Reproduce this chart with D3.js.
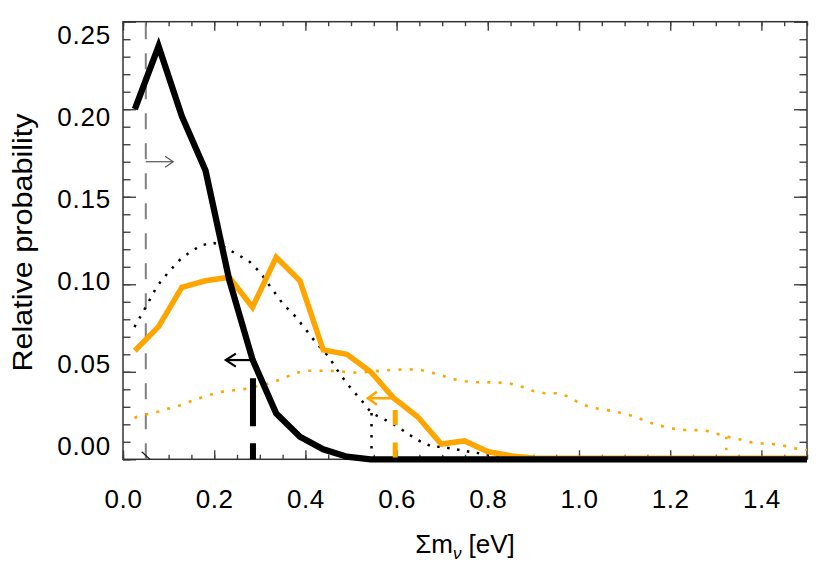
<!DOCTYPE html>
<html>
<head>
<meta charset="utf-8">
<script src="https://cdn.jsdelivr.net/npm/d3@7"></script>
<style>
  html, body { margin: 0; padding: 0; background: #fff; }
  svg { display: block; font-family: "Liberation Sans", Arial, Helvetica, sans-serif; }
</style>
</head>
<body>
<svg id="chart" width="822" height="575"></svg>
<script>
// ---------------- data ----------------
const binCenters = [0.026, 0.078, 0.129, 0.181, 0.233, 0.284, 0.336, 0.388, 0.439, 0.491,
                    0.543, 0.594, 0.646, 0.698, 0.749, 0.801, 0.853, 0.904, 0.956, 1.008,
                    1.059, 1.111, 1.163, 1.214, 1.266, 1.318, 1.369, 1.421, 1.473, 1.524];
const blackSolid = [0.200, 0.236, 0.196, 0.165, 0.1025, 0.057, 0.0262, 0.0129, 0.0057, 0.0015,
                    0, 0, 0, 0, 0, 0, 0, 0, 0, 0,
                    0, 0, 0, 0, 0, 0, 0, 0, 0, 0];
const orangeSolid = [0.062, 0.0758, 0.0983, 0.102, 0.104, 0.0869, 0.1154, 0.102, 0.0625, 0.060,
                     0.050, 0.0349, 0.0243, 0.0087, 0.0105, 0.0043, 0.0019, 0.0006, 0.0006, 0.0006,
                     0.0006, 0.0006, 0.0006, 0.0006, 0.0006, 0.0006, 0.0006, 0.0006, 0.0006, 0.0006];

const blackDottedX = [0.025, 0.05, 0.075, 0.1, 0.125, 0.15, 0.175, 0.2, 0.225, 0.25,
                      0.275, 0.3, 0.325, 0.35, 0.375, 0.4, 0.425, 0.45, 0.475, 0.5,
                      0.525, 0.545, 0.575, 0.6, 0.625, 0.65, 0.675, 0.7, 0.725, 0.75,
                      0.775, 0.8, 0.825, 0.85, 0.9, 0.95, 1.0];
const blackDottedY = [0.0755, 0.087, 0.099, 0.107, 0.114, 0.119, 0.1225, 0.1235, 0.121, 0.117,
                      0.1135, 0.107, 0.098, 0.089, 0.0825, 0.0745, 0.066, 0.059, 0.049, 0.0405,
                      0.033, 0.0265, 0.0225, 0.019, 0.0145, 0.0105, 0.0075, 0.007, 0.006, 0.0047,
                      0.0037, 0.0027, 0.002, 0.0015, 0.0008, 0.0003, 0];

const orangeDottedX = [0.025, 0.05, 0.075, 0.1, 0.125, 0.15, 0.175, 0.2, 0.225, 0.25,
                       0.275, 0.3, 0.325, 0.35, 0.375, 0.4, 0.425, 0.45, 0.475, 0.5,
                       0.525, 0.55, 0.575, 0.6, 0.625, 0.65, 0.675, 0.7, 0.725, 0.75,
                       0.775, 0.8, 0.825, 0.85, 0.875, 0.9, 0.925, 0.95, 0.975, 1.0,
                       1.025, 1.05, 1.075, 1.1, 1.125, 1.15, 1.175, 1.2, 1.225, 1.25,
                       1.275, 1.3, 1.325, 1.35, 1.375, 1.4, 1.425, 1.45, 1.475, 1.5];
const orangeDottedY = [0.0238, 0.0255, 0.027, 0.029, 0.0308, 0.0333, 0.0356, 0.0376, 0.039, 0.0396,
                       0.0405, 0.042, 0.0437, 0.046, 0.049, 0.0506, 0.0506, 0.0506, 0.0503, 0.0495,
                       0.0497, 0.0503, 0.0508, 0.0512, 0.0514, 0.0512, 0.0497, 0.0478, 0.0458, 0.0446,
                       0.044, 0.044, 0.0438, 0.0432, 0.0414, 0.039, 0.0377, 0.0377, 0.036, 0.0322,
                       0.0297, 0.0286, 0.0275, 0.026, 0.0242, 0.0214, 0.0194, 0.0178, 0.0168, 0.0167,
                       0.0166, 0.0148, 0.0129, 0.0116, 0.0098, 0.0091, 0.0087, 0.0077, 0.0062, 0.0053];

// limit markers
const lowerBound = 0.05;                         // gray dashed line
const dashedLimitsX   = [0.285, 0.597];          // black, orange thick dashed
const dashedLimitsTop = [0.0463, 0.0282];
const dottedLimitsX   = [0.545, 1.323];          // black, orange dotted drops
const dottedLimitsTop = [0.0265, 0.0129];
const arrowFromX = [0.05, 0.285, 0.597];
const arrowToX   = [0.11, 0.2255, 0.537];
const arrowY     = [0.17, 0.0567, 0.0349];

const xMajorTicks = [0, 0.2, 0.4, 0.6, 0.8, 1.0, 1.2, 1.4];
const xTickLabels = ["0.0", "0.2", "0.4", "0.6", "0.8", "1.0", "1.2", "1.4"];
const yMajorTicks = [0, 0.05, 0.10, 0.15, 0.20, 0.25];
const yTickLabels = ["0.00", "0.05", "0.10", "0.15", "0.20", "0.25"];
const xMinorTicks = d3.range(0, 31).map(i => +(i * 0.05).toFixed(2));
const yMinorTicks = d3.range(0, 26).map(i => +(i * 0.01).toFixed(2));

// ---------------- layout ----------------
const ORANGE = "#FFA500";
const svg = d3.select("#chart");
const pL = 123, pR = 807, pT = 21.7, pB = 459.3;
const x = d3.scaleLinear().domain([0, 1.5]).range([pL, pR]);
const y = d3.scaleLinear().domain([0, 0.25]).range([pB, pT]);

svg.append("defs").append("clipPath").attr("id", "plotclip")
  .append("rect").attr("x", pL).attr("y", 0).attr("width", pR - pL).attr("height", 575);

// ---------------- axes ----------------
const tickColor = "#444";
function styleAxis(g) {
  g.select(".domain").remove();
  g.selectAll(".tick line").attr("stroke", tickColor).attr("stroke-width", 1.4);
}
// bottom
svg.append("g").attr("transform", `translate(0,${pB})`)
  .call(d3.axisBottom(x).tickValues(xMinorTicks).tickSize(-4.5).tickFormat(""))
  .call(styleAxis);
const xAx = svg.append("g").attr("transform", `translate(0,${pB})`)
  .call(d3.axisBottom(x).tickValues(xMajorTicks).tickSize(-9).tickPadding(30)
        .tickFormat((d, i) => xTickLabels[i]))
  .call(styleAxis);
xAx.selectAll("text").attr("font-size", 26).attr("fill", "#000")
  .attr("font-family", "'Liberation Sans', Arial, sans-serif").style("letter-spacing", "0.6px");
// top
svg.append("g").attr("transform", `translate(0,${pT})`)
  .call(d3.axisTop(x).tickValues(xMinorTicks).tickSize(-4.5).tickFormat(""))
  .call(styleAxis);
svg.append("g").attr("transform", `translate(0,${pT})`)
  .call(d3.axisTop(x).tickValues(xMajorTicks).tickSize(-9).tickFormat(""))
  .call(styleAxis);
// left
svg.append("g").attr("transform", `translate(${pL},0)`)
  .call(d3.axisLeft(y).tickValues(yMinorTicks).tickSize(-7.5).tickFormat(""))
  .call(styleAxis);
const yAx = svg.append("g").attr("transform", `translate(${pL},0)`)
  .call(d3.axisLeft(y).tickValues(yMajorTicks).tickSize(-13).tickPadding(12)
        .tickFormat((d, i) => yTickLabels[i]))
  .call(styleAxis);
const yc = (pT + pB) / 2;
yAx.selectAll("text").attr("font-size", 26).attr("fill", "#000")
  .attr("font-family", "'Liberation Sans', Arial, sans-serif").style("letter-spacing", "0.8px")
  .attr("y", d => (yc - y(d)) * 0.06);
// right
svg.append("g").attr("transform", `translate(${pR},0)`)
  .call(d3.axisRight(y).tickValues(yMinorTicks).tickSize(-7.5).tickFormat(""))
  .call(styleAxis);
svg.append("g").attr("transform", `translate(${pR},0)`)
  .call(d3.axisRight(y).tickValues(yMajorTicks).tickSize(-13).tickFormat(""))
  .call(styleAxis);
// frame
svg.append("rect").attr("x", pL).attr("y", pT)
  .attr("width", pR - pL).attr("height", pB - pT)
  .attr("fill", "none").attr("stroke", "#333").attr("stroke-width", 1.5);

// ---------------- titles ----------------
svg.append("text")
  .attr("transform", `translate(32,${yc + 2}) rotate(-90)`)
  .attr("text-anchor", "middle").attr("font-size", 27).attr("fill", "#000")
  .attr("textLength", 258).attr("lengthAdjust", "spacingAndGlyphs")
  .text("Relative probability");

const xt = svg.append("text").attr("x", (pL + pR) / 2).attr("y", 553)
  .attr("text-anchor", "middle").attr("font-size", 26).attr("fill", "#000");
xt.append("tspan").text("Σm");
xt.append("tspan").attr("font-size", 17).attr("font-style", "italic").attr("dy", 6).text("ν");
xt.append("tspan").attr("dy", -6).text(" [eV]");

// ---------------- marks ----------------
const plot = svg.append("g").attr("clip-path", "url(#plotclip)");

// gray dashed lower bound, drawn from bottom upward
plot.append("line")
  .attr("x1", x(lowerBound)).attr("x2", x(lowerBound))
  .attr("y1", y(0)).attr("y2", y(0.25))
  .attr("stroke", "#808080").attr("stroke-width", 2).attr("stroke-dasharray", "16,14");
// small diagonal at its foot
plot.append("line")
  .attr("x1", x(lowerBound - 0.009)).attr("y1", y(0.0043))
  .attr("x2", x(lowerBound + 0.009)).attr("y2", y(0))
  .attr("stroke", "#222").attr("stroke-width", 1.3);

const line = d3.line().x(d => x(d[0])).y(d => y(d[1]));

// dotted curves
plot.append("path").datum(orangeDottedX.map((v, i) => [v, orangeDottedY[i]]))
  .attr("d", line).attr("fill", "none").attr("stroke", ORANGE)
  .attr("stroke-width", 2.6).attr("stroke-dasharray", "3,8.3");
plot.append("path").datum(blackDottedX.map((v, i) => [v, blackDottedY[i]]))
  .attr("d", line).attr("fill", "none").attr("stroke", "#000")
  .attr("stroke-width", 2.5).attr("stroke-dasharray", "2.5,7.5");

// dotted drops
const dotColors = ["#000", ORANGE];
dottedLimitsX.forEach((lx, i) => {
  plot.append("line").attr("x1", x(lx)).attr("x2", x(lx))
    .attr("y1", y(dottedLimitsTop[i])).attr("y2", y(0))
    .attr("stroke", dotColors[i]).attr("stroke-width", 2.5).attr("stroke-dasharray", "2.5,8.5");
});

// solid histograms
plot.append("path").datum(binCenters.map((v, i) => [v, orangeSolid[i]]))
  .attr("d", line).attr("fill", "none").attr("stroke", ORANGE)
  .attr("stroke-width", 5.5).attr("stroke-linejoin", "miter");
plot.append("path").datum(binCenters.map((v, i) => [v, blackSolid[i]]))
  .attr("d", line).attr("fill", "none").attr("stroke", "#000")
  .attr("stroke-width", 6.3).attr("stroke-linejoin", "miter");

// thick dashed upper limits (drawn from top down)
const dashColors = ["#000", ORANGE];
const dashPatterns = ["48,17", "15,17.5"];
const dashWidths = [6, 5];
dashedLimitsX.forEach((lx, i) => {
  plot.append("line").attr("x1", x(lx)).attr("x2", x(lx))
    .attr("y1", y(dashedLimitsTop[i])).attr("y2", y(0))
    .attr("stroke", dashColors[i]).attr("stroke-width", dashWidths[i])
    .attr("stroke-dasharray", dashPatterns[i]);
});

// arrows
const arrowColors = ["#555", "#000", ORANGE];
const arrowWidths = [1.2, 2.2, 2.6];
const headLen = [8, 10, 9];
const headHalf = [5.5, 6.5, 6.5];
arrowFromX.forEach((ax, i) => {
  const x0 = x(ax), x1 = x(arrowToX[i]), yy = y(arrowY[i]);
  const dir = Math.sign(x1 - x0);
  plot.append("line").attr("x1", x0).attr("x2", x1).attr("y1", yy).attr("y2", yy)
    .attr("stroke", arrowColors[i]).attr("stroke-width", arrowWidths[i]);
  plot.append("path")
    .attr("d", `M${x1 - dir * headLen[i]},${yy - headHalf[i]} L${x1},${yy} L${x1 - dir * headLen[i]},${yy + headHalf[i]}`)
    .attr("fill", "none").attr("stroke", arrowColors[i]).attr("stroke-width", arrowWidths[i]);
});
</script>
</body>
</html>
